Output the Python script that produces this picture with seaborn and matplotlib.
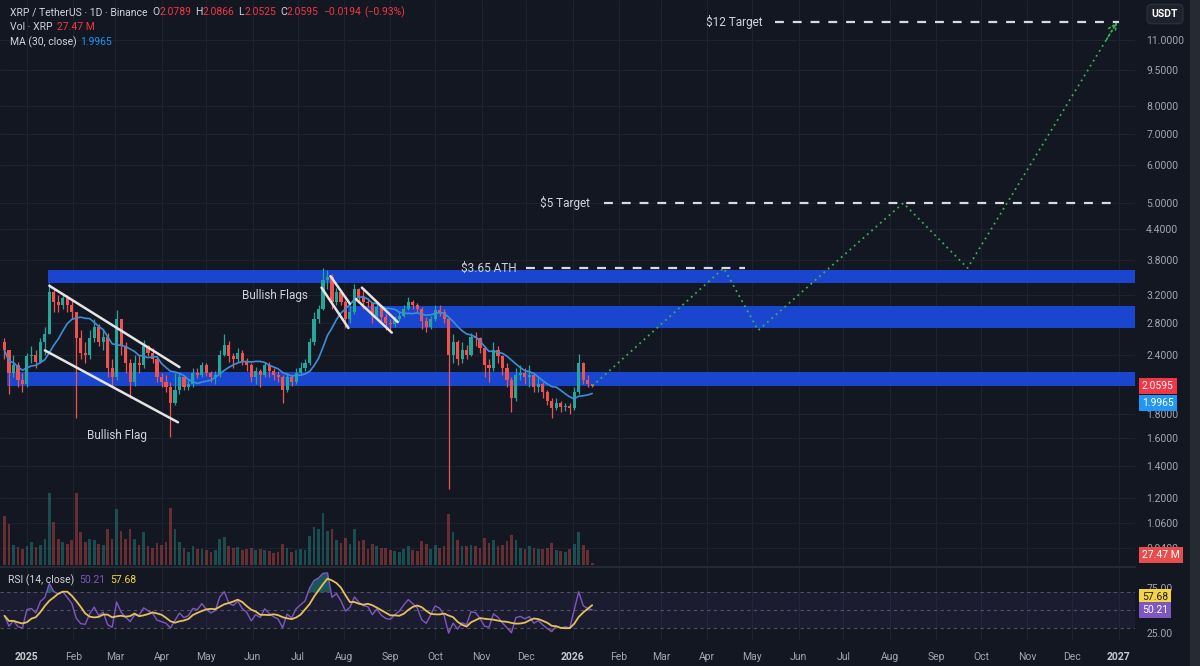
import numpy as np
import pandas as pd
import matplotlib
matplotlib.use("Agg")
import matplotlib.pyplot as plt
import matplotlib.dates as mdates
import matplotlib.transforms as mtransforms
import seaborn as sns

# ---- candles: XRP/USDT, one candle per 3 days (Dec 17 2024 -> Jan 14 2026)
first_open = 2.55
close = [2.45, 2.20, 2.28, 2.12, 2.08, 2.38, 2.40, 2.32, 2.55, 2.65,
         3.25, 3.10, 3.05, 3.15, 3.05, 2.95, 2.60, 2.42, 2.40, 2.60,
         2.75, 2.55, 2.62, 2.25, 2.15, 2.85, 2.50, 2.30, 2.10, 2.30,
         2.28, 2.50, 2.42, 2.35, 2.15, 2.10, 2.05, 1.90, 2.02, 2.15,
         2.05, 2.08, 2.20, 2.18, 2.28, 2.20, 2.15, 2.18, 2.40, 2.52,
         2.38, 2.35, 2.42, 2.33, 2.28, 2.15, 2.22, 2.18, 2.28, 2.22,
         2.18, 2.15, 2.02, 2.15, 2.10, 2.20, 2.25, 2.30, 2.55, 2.85,
         3.00, 3.45, 3.50, 3.10, 3.25, 3.10, 2.85, 2.95, 3.30, 3.18,
         3.10, 3.08, 2.90, 3.02, 2.88, 2.80, 2.78, 2.85, 2.90, 3.00,
         3.10, 3.05, 3.00, 2.82, 2.75, 2.85, 2.98, 2.95, 2.85, 2.40,
         2.55, 2.35, 2.45, 2.40, 2.62, 2.60, 2.48, 2.28, 2.25, 2.45,
         2.38, 2.25, 2.12, 1.95, 2.18, 2.20, 2.15, 2.18, 2.05, 2.08,
         2.00, 1.92, 1.85, 1.90, 1.86, 1.87, 1.85, 2.00, 2.30, 2.12,
         2.0789, 2.0595]
high = [2.60, 2.45, 2.40, 2.32, 2.20, 2.42, 2.50, 2.45, 2.60, 2.75,
        3.40, 3.30, 3.20, 3.22, 3.20, 3.12, 2.95, 2.70, 2.55, 2.70,
        2.85, 2.78, 2.70, 2.66, 2.35, 2.98, 2.85, 2.55, 2.35, 2.40,
        2.40, 2.58, 2.52, 2.48, 2.38, 2.20, 2.18, 2.10, 2.20, 2.20,
        2.18, 2.12, 2.25, 2.25, 2.32, 2.30, 2.22, 2.22, 2.45, 2.65,
        2.56, 2.42, 2.48, 2.45, 2.36, 2.30, 2.26, 2.24, 2.32, 2.32,
        2.25, 2.22, 2.17, 2.20, 2.18, 2.25, 2.32, 2.35, 2.60, 2.95,
        3.05, 3.65, 3.62, 3.55, 3.32, 3.28, 3.12, 3.05, 3.38, 3.32,
        3.30, 3.15, 3.10, 3.08, 3.05, 2.92, 2.85, 2.90, 2.95, 3.05,
        3.18, 3.12, 3.08, 3.03, 2.88, 2.90, 3.05, 3.05, 3.00, 2.88,
        2.65, 2.58, 2.55, 2.52, 2.66, 2.68, 2.62, 2.50, 2.35, 2.55,
        2.50, 2.40, 2.30, 2.15, 2.25, 2.28, 2.25, 2.28, 2.20, 2.15,
        2.10, 2.02, 1.95, 1.95, 1.92, 1.90, 1.90, 2.05, 2.41, 2.32,
        2.18, 2.0866]
low = [2.35, 1.98, 2.15, 2.05, 2.00, 2.05, 2.30, 2.25, 2.30, 2.40,
       2.65, 2.95, 2.95, 3.00, 2.95, 2.85, 1.77, 2.35, 2.30, 2.35,
       2.55, 2.50, 2.45, 2.15, 2.05, 2.12, 2.40, 2.20, 1.95, 2.06,
       2.20, 2.25, 2.38, 2.30, 2.10, 2.05, 2.00, 1.61, 1.88, 1.98,
       2.02, 2.02, 2.05, 2.14, 2.15, 2.16, 2.10, 2.08, 2.15, 2.38,
       2.32, 2.25, 2.32, 2.28, 2.22, 2.10, 2.08, 2.05, 2.15, 2.15,
       2.12, 2.10, 1.90, 2.00, 2.06, 2.08, 2.18, 2.22, 2.28, 2.52,
       2.80, 2.98, 3.30, 3.00, 3.05, 3.05, 2.73, 2.80, 2.92, 3.08,
       3.00, 3.02, 2.80, 2.85, 2.80, 2.70, 2.70, 2.75, 2.82, 2.88,
       2.98, 3.00, 2.95, 2.72, 2.68, 2.72, 2.82, 2.90, 2.80, 1.25,
       2.30, 2.28, 2.30, 2.35, 2.38, 2.50, 2.42, 2.15, 2.10, 2.22,
       2.30, 2.18, 2.05, 1.82, 1.92, 2.12, 2.08, 2.05, 2.00, 2.00,
       1.95, 1.88, 1.77, 1.84, 1.82, 1.83, 1.80, 1.84, 1.98, 2.08,
       2.05, 2.0525]
volume = [600, 500, 240, 220, 200, 230, 280, 220, 250, 320,
          880, 520, 320, 280, 260, 300, 880, 400, 280, 320,
          300, 260, 240, 440, 320, 680, 420, 320, 440, 320,
          250, 400, 230, 210, 270, 240, 280, 700, 440, 280,
          210, 160, 230, 190, 200, 180, 160, 180, 320, 340,
          230, 210, 220, 180, 190, 210, 180, 200, 180, 170,
          150, 160, 260, 210, 160, 180, 200, 180, 360, 470,
          440, 640, 420, 440, 310, 270, 330, 260, 440, 290,
          310, 190, 260, 230, 210, 210, 180, 170, 160, 200,
          230, 180, 170, 290, 260, 190, 240, 210, 230, 620,
          400, 310, 230, 230, 250, 230, 210, 330, 270, 310,
          230, 240, 290, 370, 310, 210, 190, 230, 210, 200,
          190, 210, 270, 180, 170, 160, 190, 260, 400, 250,
          180, 27.47]

ma_last = 1.9965
rsi_last = 50.21
rsi_ma_last = 57.68

# ---- drawings
zone_low = [3.39, 2.73, 2.06]
zone_high = [3.62, 3.04, 2.21]
zone_start = ["2025-01-15", "2025-08-04", "2024-12-19"]

target_price = [12.0, 5.0, 3.65]
target_label = ["$12 Target", "$5 Target", "$3.65 ATH"]
target_from = ["2026-05-16", "2026-01-22", "2025-12-01"]
target_to = ["2027-01-01", "2027-01-01", "2026-04-26"]
target_text_at = ["2026-04-19", "2025-12-27", "2025-11-06"]

proj_dates = ["2026-01-14", "2026-04-12", "2026-05-05", "2026-08-10", "2026-09-22", "2026-12-31"]
proj_prices = [2.06, 3.65, 2.70, 5.0, 3.65, 12.0]

flag_d0 = ["2025-01-16", "2025-01-13", "2025-07-17", "2025-07-23", "2025-08-13", "2025-08-09"]
flag_p0 = [3.35, 2.45, 3.32, 3.51, 3.32, 3.14]
flag_d1 = ["2025-04-13", "2025-04-12", "2025-08-04", "2025-08-05", "2025-09-06", "2025-09-02"]
flag_p1 = [2.26, 1.73, 2.73, 3.07, 2.81, 2.67]

notes = ["Bullish Flags", "Bullish Flag"]
note_dates = ["2025-06-16", "2025-03-02"]
note_prices = [3.19, 1.62]

price_ticks = [0.94, 1.06, 1.2, 1.4, 1.6, 1.8, 2.4, 2.8, 3.2, 3.8, 4.4, 5.0, 6.0, 7.0, 8.0, 9.5, 11.0]

# ---- colours
bg = "#131722"
grid_c = "#1d2130"
txt = "#d1d4dc"
axis_txt = "#a3a6af"
up_c = "#26a69a"
dn_c = "#ef5350"
zone_c = "#1a45cf"
ma_c = "#3b8fd9"
rsi_c = "#7e57c2"
rsi_ma_c = "#e6c15a"
proj_c = "#3fae5a"

sns.set_theme(style="dark", rc={"axes.facecolor": bg, "figure.facecolor": bg,
                                "axes.edgecolor": bg, "grid.color": grid_c,
                                "text.color": txt})
plt.rcParams["font.family"] = ["Roboto", "DejaVu Sans"]

dates = pd.date_range("2024-12-17", periods=len(close), freq="3D")
df = pd.DataFrame({"date": dates, "close": close, "high": high, "low": low, "volume": volume})
df["open"] = [first_open] + close[:-1]
df["up"] = df["close"] >= df["open"]
df["color"] = np.where(df["up"], up_c, dn_c)
df["ma"] = df["close"].rolling(10, min_periods=1).mean()

# Wilder RSI on the 3-day closes, seeded neutral
n = 7
avg_g, avg_l = 0.06, 0.06
rsi = []
prev = first_open
for c in close:
    d = c - prev
    avg_g = (avg_g * (n - 1) + max(d, 0)) / n
    avg_l = (avg_l * (n - 1) + max(-d, 0)) / n
    rsi.append(100 - 100 / (1 + avg_g / avg_l))
    prev = c
df["rsi"] = rsi
df["rsi_ma"] = df["rsi"].rolling(5, min_periods=1).mean()

W, H = 1200, 666
fig = plt.figure(figsize=(W / 100, H / 100), dpi=100)


def px_rect(l, t, r, b):
    return [l / W, 1 - b / H, (r - l) / W, (b - t) / H]


ax = fig.add_axes(px_rect(0, 0, 1135, 565))
rax = fig.add_axes(px_rect(0, 567, 1135, 640), sharex=ax)
vax = ax.twinx()
x_left, x_right = pd.Timestamp("2024-12-14"), pd.Timestamp("2027-01-12")

# ---- price panel
ax.set_yscale("log")
ax.set_ylim(0.867, 13.36)
ax.set_xlim(x_left, x_right)

for lo, hi, st in zip(zone_low, zone_high, zone_start):
    ax.fill_between([pd.Timestamp(st), x_right], lo, hi, color=zone_c, lw=0, zorder=1)

ax.vlines(df["date"], df["low"], df["high"], colors=df["color"], lw=0.9, zorder=3)
body = (df["close"] - df["open"]).abs().clip(lower=0.006)
ax.bar(df["date"], body, bottom=df[["open", "close"]].min(axis=1), width=2.1,
       color=df["color"], lw=0, zorder=3)
sns.lineplot(data=df, x="date", y="ma", ax=ax, color=ma_c, lw=1.2, zorder=4)

for d0, p0, d1, p1 in zip(flag_d0, flag_p0, flag_d1, flag_p1):
    ax.plot([pd.Timestamp(d0), pd.Timestamp(d1)], [p0, p1], color="#e4e4e4", lw=1.8,
            solid_capstyle="round", zorder=5)

for note, d, p in zip(notes, note_dates, note_prices):
    ax.text(pd.Timestamp(d), p, note, color=txt, fontsize=8.5, ha="center", va="center", zorder=6)

for p, lab, d0, d1, dt in zip(target_price, target_label, target_from, target_to, target_text_at):
    ax.plot([pd.Timestamp(d0), pd.Timestamp(d1)], [p, p], color="#d8dae0", lw=1.6,
            ls=(0, (4, 4)), zorder=5)
    ax.text(pd.Timestamp(dt), p, lab, color=txt, fontsize=8.5, ha="center", va="center", zorder=6)

proj = pd.DataFrame({"date": pd.to_datetime(proj_dates), "price": proj_prices})
sns.lineplot(data=proj, x="date", y="price", ax=ax, color=proj_c, lw=1.3,
             ls=(0, (1, 2.2)), zorder=5)
# arrow head at the end of the projection
t0 = mdates.date2num(proj["date"].iloc[-2])
t1 = mdates.date2num(proj["date"].iloc[-1])
lp0, lp1 = np.log(proj_prices[-2]), np.log(proj_prices[-1])
ax.annotate("", xy=(t1, proj_prices[-1]),
            xytext=(t0 + 0.93 * (t1 - t0), np.exp(lp0 + 0.93 * (lp1 - lp0))),
            arrowprops=dict(arrowstyle="->", color=proj_c, lw=1.2, ls=":",
                            mutation_scale=14, shrinkA=0, shrinkB=0), zorder=5)

ax.set_yticks(price_ticks)
ax.set_yticklabels([f"{t:.4f}" for t in price_ticks])
ax.yaxis.set_minor_locator(matplotlib.ticker.NullLocator())
ax.yaxis.tick_right()
ax.tick_params(axis="y", length=0, pad=8, labelsize=7.5, labelcolor=axis_txt,
               labelleft=False, labelright=True)
ax.tick_params(axis="x", length=0, labelbottom=False)
ax.grid(True, color=grid_c, lw=0.8)
ax.set_xlabel("")
ax.set_ylabel("")
for s in ax.spines.values():
    s.set_visible(False)

# ---- volume overlay
vax.set_ylim(0, 880 * 565 / 72)
vax.bar(df["date"], df["volume"], width=1.8, color=df["color"], alpha=0.38, lw=0, zorder=2)
vax.yaxis.set_visible(False)
for s in vax.spines.values():
    s.set_visible(False)

# ---- RSI panel
rax.set_ylim(17, 98)
rax.axhspan(30, 70, color=rsi_c, alpha=0.09, lw=0)
for lvl in [70, 50, 30]:
    rax.axhline(lvl, color="#787b86", lw=0.8, ls=(0, (3, 3)), alpha=0.6)
rax.fill_between(df["date"], df["rsi"], 70, where=df["rsi"] > 70, interpolate=True,
                 color=up_c, alpha=0.45, lw=0)
rax.fill_between(df["date"], df["rsi"], 30, where=df["rsi"] < 30, interpolate=True,
                 color=dn_c, alpha=0.35, lw=0)
sns.lineplot(data=df, x="date", y="rsi", ax=rax, color=rsi_c, lw=1.0)
sns.lineplot(data=df, x="date", y="rsi_ma", ax=rax, color=rsi_ma_c, lw=1.3)
rax.set_yticks([25, 75])
rax.set_yticklabels(["25.00", "75.00"])
rax.yaxis.tick_right()
rax.tick_params(axis="y", length=0, pad=8, labelsize=7.5, labelcolor=axis_txt)
rax.grid(True, axis="x", color=grid_c, lw=0.8)
rax.grid(False, axis="y")
rax.set_xlabel("")
rax.set_ylabel("")
for s in rax.spines.values():
    s.set_visible(False)
rax.spines["top"].set_visible(True)
rax.spines["top"].set_color("#2a2e39")

months = pd.date_range("2025-01-01", "2027-01-01", freq="MS")
rax.set_xticks(months)
rax.set_xticklabels([str(m.year) if m.month == 1 else m.strftime("%b") for m in months])
rax.tick_params(axis="x", length=0, pad=9, labelsize=7.5, labelcolor=axis_txt)
for lab in rax.get_xticklabels():
    if lab.get_text().isdigit():
        lab.set_fontweight("bold")
        lab.set_color("#c8cad0")
rax.set_xlim(x_left, x_right)

# ---- right-hand value boxes
ptrans = mtransforms.blended_transform_factory(ax.transAxes, ax.transData)
box_kw = dict(ha="left", va="center", fontsize=7.5, clip_on=False, zorder=20)
ax.text(1.006, close[-1], f"{close[-1]:.4f}", transform=ptrans, color="white",
        bbox=dict(boxstyle="square,pad=0.3", fc="#f23645", ec="none"), **box_kw)
ax.text(1.006, 1.90, f"{ma_last:.4f}", transform=ptrans, color="white",
        bbox=dict(boxstyle="square,pad=0.3", fc="#2196f3", ec="none"), **box_kw)
vtrans = mtransforms.blended_transform_factory(vax.transAxes, vax.transAxes)
vax.text(1.006, 0.018, f"{volume[-1]:.2f} M", transform=vtrans, color="white",
         bbox=dict(boxstyle="square,pad=0.3", fc="#e84c4c", ec="none"), **box_kw)
rtrans = mtransforms.blended_transform_factory(rax.transAxes, rax.transData)
rax.text(1.006, 65, f"{rsi_ma_last:.2f}", transform=rtrans, color="#1a1a1a",
         bbox=dict(boxstyle="square,pad=0.3", fc="#f5d547", ec="none"), **box_kw)
rax.text(1.006, 50, f"{rsi_last:.2f}", transform=rtrans, color="white",
         bbox=dict(boxstyle="square,pad=0.3", fc="#7e57c2", ec="none"), **box_kw)
fig.text(1165 / W, 1 - 14 / H, "USDT", ha="center", va="center", fontsize=7.5,
         color="white", fontweight="bold",
         bbox=dict(boxstyle="round,pad=0.45", fc="#1e222d", ec="#2a2e39"))

# ---- legend rows (top-left)
renderer = fig.canvas.get_renderer()


def text_row(x, y, parts, size=7.5):
    for s, col, gap in parts:
        t = fig.text(x / W, 1 - y / H, s, color=col, fontsize=size, va="center", ha="left")
        x = t.get_window_extent(renderer).x1 + gap


red = "#f23645"
chg = close[-1] - close[-2]
text_row(10, 12, [("XRP / TetherUS · 1D · Binance", txt, 5),
                  ("O", txt, 0), (f"{close[-2]:.4f}", red, 4),
                  ("H", txt, 0), (f"{high[-1]:.4f}", red, 4),
                  ("L", txt, 0), (f"{low[-1]:.4f}", red, 4),
                  ("C", txt, 0), (f"{close[-1]:.4f}", red, 4),
                  (f"\u2212{abs(chg):.4f}", red, 4),
                  (f"(\u2212{abs(chg) / close[-2] * 100:.2f}%)", red, 0)])
text_row(10, 27, [("Vol · XRP", txt, 4), (f"{volume[-1]:.2f} M", red, 0)])
text_row(10, 42, [("MA (30, close)", txt, 4), (f"{ma_last:.4f}", "#2196f3", 0)])
text_row(8, 580, [("RSI (14, close)", txt, 5), (f"{rsi_last:.2f}", rsi_c, 5),
                  (f"{rsi_ma_last:.2f}", "#f5d547", 0)])

fig.add_artist(plt.Rectangle((1190 / W, 0), 10 / W, 1, transform=fig.transFigure,
                             color="#262a33", zorder=0))

fig.savefig("out.png", dpi=100, facecolor=bg)
